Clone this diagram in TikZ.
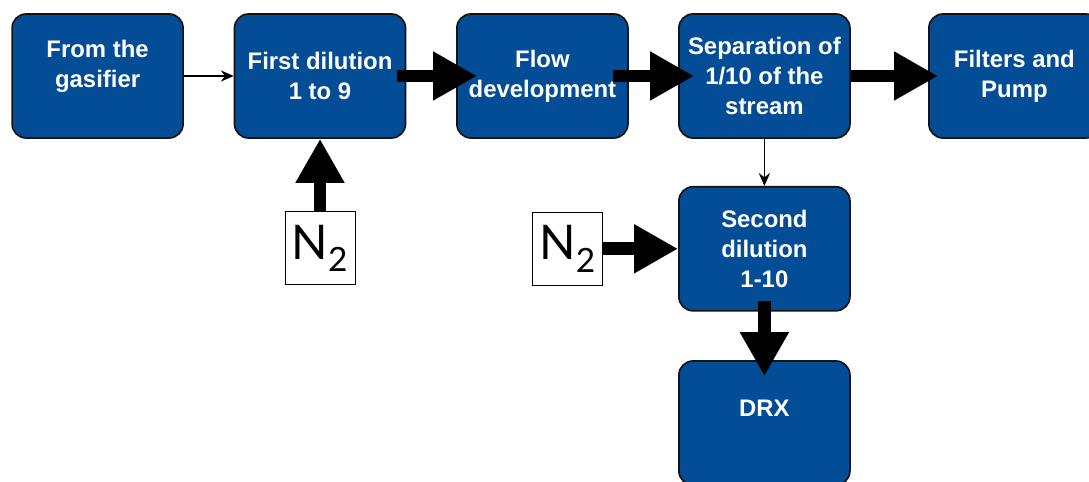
\documentclass[tikz,border=0pt]{standalone}
\usepackage{fontspec}
\setmainfont{Liberation Sans}
\newfontfamily\gillfont{Lato}
\usetikzlibrary{positioning,arrows.meta}
\definecolor{boxblue}{HTML}{034C96}
\definecolor{edge}{HTML}{141414}
\tikzset{
  blk/.style={rounded corners=10pt,fill=boxblue,draw=edge,line width=1.2pt,minimum width=4.275cm,minimum height=3.1cm,align=center,text=white,font=\fontsize{17}{21.3}\selectfont\bfseries},
  gasbox/.style={draw=black,line width=0.6pt,fill=white,minimum width=1.75cm,minimum height=1.825cm,inner sep=0pt,font=\gillfont\fontsize{34}{36}\selectfont},
  feed/.style={-{Stealth[length=3.2mm,width=2.8mm]},line width=1pt},
  bigflow/.style={-{Triangle[length=1.1cm,width=1.15cm]},line width=0.32cm},
}
\begin{document}
\begin{tikzpicture}
\useasboundingbox (0,0) rectangle (27.225,-12.05);
\node[blk] (gas) at (2.44,-1.9) {From the\\gasifier\\[-8pt]\phantom{g}};
\node[blk] (dil1) at (8.0,-1.9) {First dilution\\1 to 9};
\node[blk] (flow) at (13.56,-1.9) {Flow\\development};
\node[blk] (sep) at (19.11,-1.9) {Separation of\\1/10 of the\\stream};
\node[blk] (filt) at (25.36,-1.9) {Filters and\\Pump};
\node[blk] (dil2) at (19.11,-6.22) {Second\\dilution\\1-10};
\node[blk] (drx) at (19.11,-10.575) {DRX\\\phantom{D}};
\node[gasbox] (nA) at (8.0,-6.21) {N\textsubscript{2}};
\node[gasbox] (nB) at (14.19,-6.22) {N\textsubscript{2}};
\draw[feed] (gas) -- (dil1); \draw[feed] (sep) -- (dil2);
\draw[bigflow] ([xshift=-0.225cm]dil1.east) -- ([xshift=0.525cm]flow.west);
\draw[bigflow] ([xshift=-0.4cm]flow.east) -- ([xshift=0.4cm]sep.west);
\draw[bigflow] (sep.east) -- ([xshift=0.25cm]filt.west);
\draw[bigflow] (nA) -- (dil1); \draw[bigflow] (nB) -- (dil2);
\draw[bigflow] ([yshift=0.275cm]dil2.south) -- ([yshift=-0.4cm]drx.north);
\end{tikzpicture}
\end{document}
